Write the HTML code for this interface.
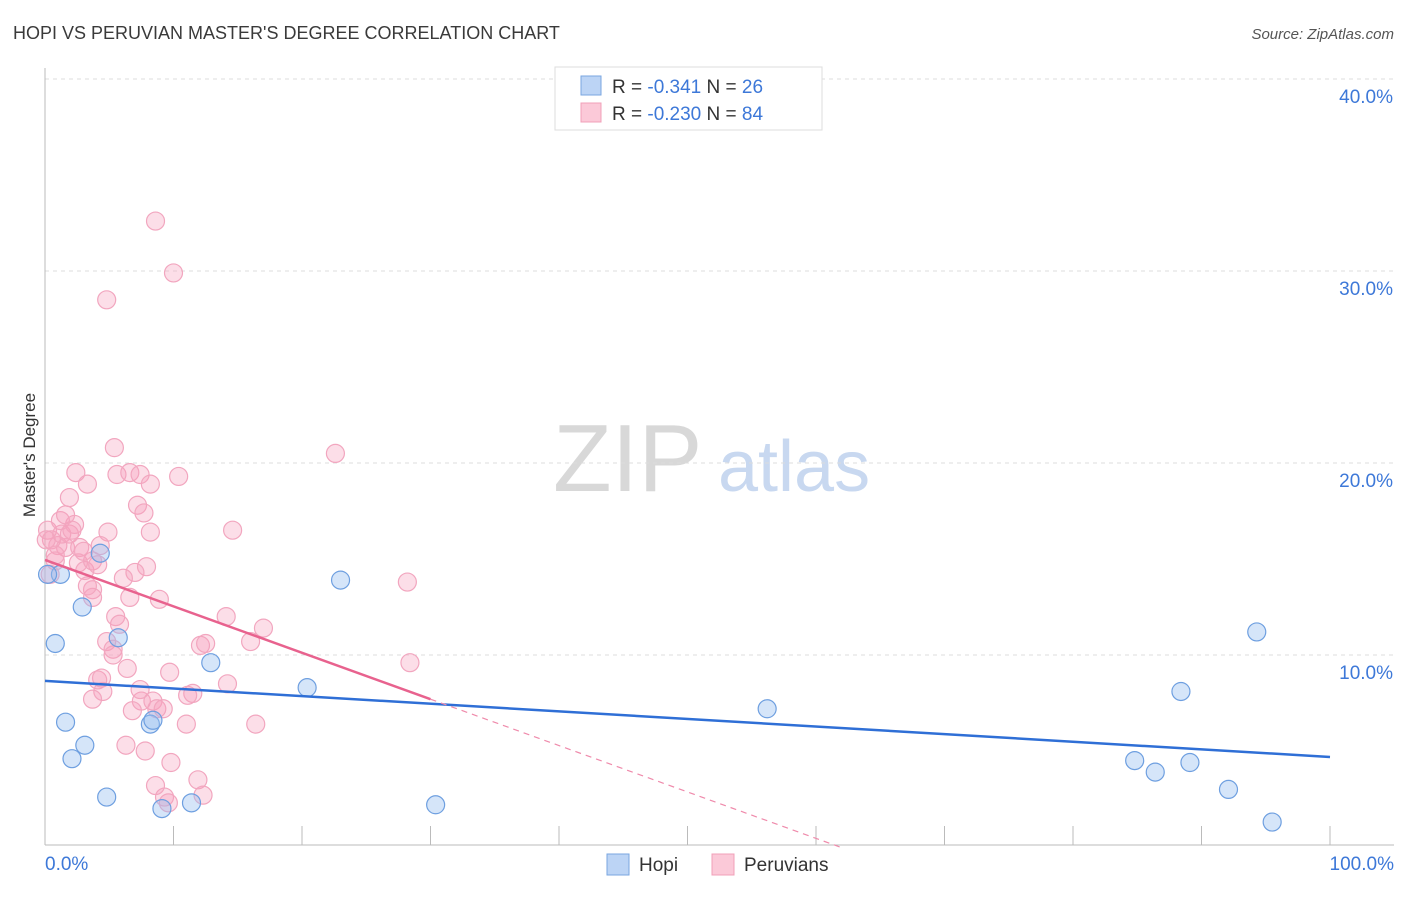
<!DOCTYPE html>
<html><head><meta charset="utf-8">
<style>
body{margin:0;background:#fff;font-family:"Liberation Sans",sans-serif;}
svg text{font-family:"Liberation Sans",sans-serif;}
</style></head>
<body>
<svg id="chart" width="1406" height="892" xmlns="http://www.w3.org/2000/svg">
<text x="13" y="39" font-size="18" fill="#3a3a3a">HOPI VS PERUVIAN MASTER'S DEGREE CORRELATION CHART</text>
<text x="1394" y="39" font-size="15" fill="#555" font-style="italic" text-anchor="end">Source: ZipAtlas.com</text>
<text x="35" y="455" font-size="17" fill="#333" text-anchor="middle" transform="rotate(-90 35 455)">Master's Degree</text>
<g>
<text x="553" y="491" font-size="96" font-family="Liberation Serif, serif" fill="#d8d8d8">ZIP</text>
<text x="718" y="491" font-size="72" fill="#c8d8f0">atlas</text>
</g>
<g id="grid"></g>
<g id="axes"></g>
<g id="pts"></g>
<g id="trends"></g>
<g>
<rect x="555" y="67" width="267" height="63" fill="#fff" stroke="#ddd"/>
<rect x="581" y="76" width="20" height="19" fill="#bcd4f5" stroke="#7aa6e0"/>
<rect x="581" y="103" width="20" height="19" fill="#fbc9d8" stroke="#f0a0b8"/>
<text x="612" y="93" font-size="19" fill="#333">R = <tspan fill="#3d78d8">-0.341</tspan>   N = <tspan fill="#3d78d8">26</tspan></text>
<text x="612" y="120" font-size="19" fill="#333">R = <tspan fill="#3d78d8">-0.230</tspan>   N = <tspan fill="#3d78d8">84</tspan></text>
</g>
<g>
<rect x="607" y="854" width="22" height="21" fill="#bcd4f5" stroke="#7aa6e0"/>
<text x="639" y="871" font-size="19" fill="#333">Hopi</text>
<rect x="712" y="854" width="22" height="21" fill="#fbc9d8" stroke="#f0a0b8"/>
<text x="744" y="871" font-size="19" fill="#333">Peruvians</text>
</g>
</svg>
<script>
const yTicks=[10,20,30,40];
const yTickLabels=["10.0%","20.0%","30.0%","40.0%"];
const xTicks=[0,10,20,30,40,50,60,70,80,90,100];
const hopiX=[0.8,1.2,4.3,2.9,5.7,1.6,2.1,3.1,4.8,9.1,11.4,8.2,8.4,12.9,20.4,23.0,30.4,56.2,88.4,94.3,84.8,86.4,89.1,92.1,95.5,0.2];
const hopiY=[10.6,14.2,15.3,12.5,10.9,6.5,4.6,5.3,2.6,2.0,2.3,6.4,6.6,9.6,8.3,13.9,2.2,7.2,8.1,11.2,4.5,3.9,4.4,3.0,1.3,14.2];
const peruPx=[[156,221],[174,272],[107,299],[336,454],[115,447],[76,473],[117,475],[130,473],[140,474],[150,484],[178,477],[70,498],[88,484],[233,530],[407,583],[48,530],[52,540],[58,545],[62,535],[65,548],[70,535],[75,524],[80,548],[55,560],[78,562],[85,570],[92,560],[98,565],[108,532],[137,505],[144,513],[150,532],[147,567],[135,572],[124,578],[92,590],[92,598],[88,585],[160,600],[130,597],[116,617],[120,624],[226,616],[263,628],[251,641],[200,645],[205,643],[107,641],[113,649],[113,655],[127,668],[170,672],[410,663],[227,683],[98,680],[101,679],[103,692],[92,700],[193,694],[187,696],[141,702],[153,701],[133,710],[157,709],[163,708],[186,725],[256,724],[126,746],[145,751],[171,763],[198,779],[165,797],[168,802],[203,795],[155,786],[46,540],[50,575],[60,520],[72,530],[84,552],[65,515],[100,545],[55,555],[140,690]];
const peruX=peruPx.map(p=>+((p[0]-45)/12.85).toFixed(1));
const peruY=peruPx.map(p=>+((847-p[1])/19.2).toFixed(1));
const hopiTrend=[8.65,4.69];   // y at x=0, y at x=100
const peruTrend=[14.95,7.7];   // y at x=0, y at x=30
const peruTrendEnd=30;

const X=v=>45+v*12.85;
const Y=v=>847-v*19.2;
const NS="http://www.w3.org/2000/svg";
function mk(tag,attrs,parent){const e=document.createElementNS(NS,tag);for(const k in attrs)e.setAttribute(k,attrs[k]);parent.appendChild(e);return e;}
const grid=document.getElementById('grid'),axes=document.getElementById('axes'),pts=document.getElementById('pts'),tr=document.getElementById('trends');
yTicks.forEach((t,i)=>{
 const l=mk('line',{x1:45,x2:1394,y1:Y(t),y2:Y(t),stroke:'#ddd','stroke-dasharray':'4 4'},grid);
 
 
 const tx=mk('text',{x:1393,y:Y(t)+24,'font-size':19,fill:'#3d78d8','text-anchor':'end'},axes);
 tx.textContent=yTickLabels[i];
 
 
});
const ax=mk('line',{x1:45,x2:1394,y1:845,y2:845,stroke:'#bbb'},axes);


const ay=mk('line',{x1:45,x2:45,y1:68,y2:845,stroke:'#bbb'},axes);


xTicks.forEach(t=>{
 const l=mk('line',{x1:X(t),x2:X(t),y1:826,y2:845,stroke:'#bbb'},axes);
 
 
});
const x0=mk('text',{x:45,y:870,'font-size':19,fill:'#3d78d8'},axes);x0.textContent='0.0%';


const x1=mk('text',{x:1394,y:870,'font-size':19,fill:'#3d78d8','text-anchor':'end'},axes);x1.textContent='100.0%';


peruX.forEach((v,i)=>{
 const c=mk('circle',{cx:X(v),cy:Y(peruY[i]),r:9,fill:'rgba(245,160,190,0.35)',stroke:'#f2a6bf','stroke-width':1.2},pts);
 
 
});
hopiX.forEach((v,i)=>{
 const c=mk('circle',{cx:X(v),cy:Y(hopiY[i]),r:9,fill:'rgba(150,190,240,0.4)',stroke:'#6e9fe0','stroke-width':1.2},pts);
 
 
});
const hl=mk('line',{x1:X(0),y1:Y(hopiTrend[0]),x2:X(100),y2:Y(hopiTrend[1]),stroke:'#2f6fd6','stroke-width':2.5},tr);


const slope=(peruTrend[1]-peruTrend[0])/peruTrendEnd;
const zeroX=-peruTrend[0]/slope;
const pl=mk('line',{x1:X(0),y1:Y(peruTrend[0]),x2:X(peruTrendEnd),y2:Y(peruTrend[1]),stroke:'#e8628e','stroke-width':2.5},tr);


const pd=mk('line',{x1:X(peruTrendEnd),y1:Y(peruTrend[1]),x2:X(zeroX),y2:Y(0),stroke:'#ef8aab','stroke-width':1.2,'stroke-dasharray':'6 5'},tr);


</script>
</body></html>
